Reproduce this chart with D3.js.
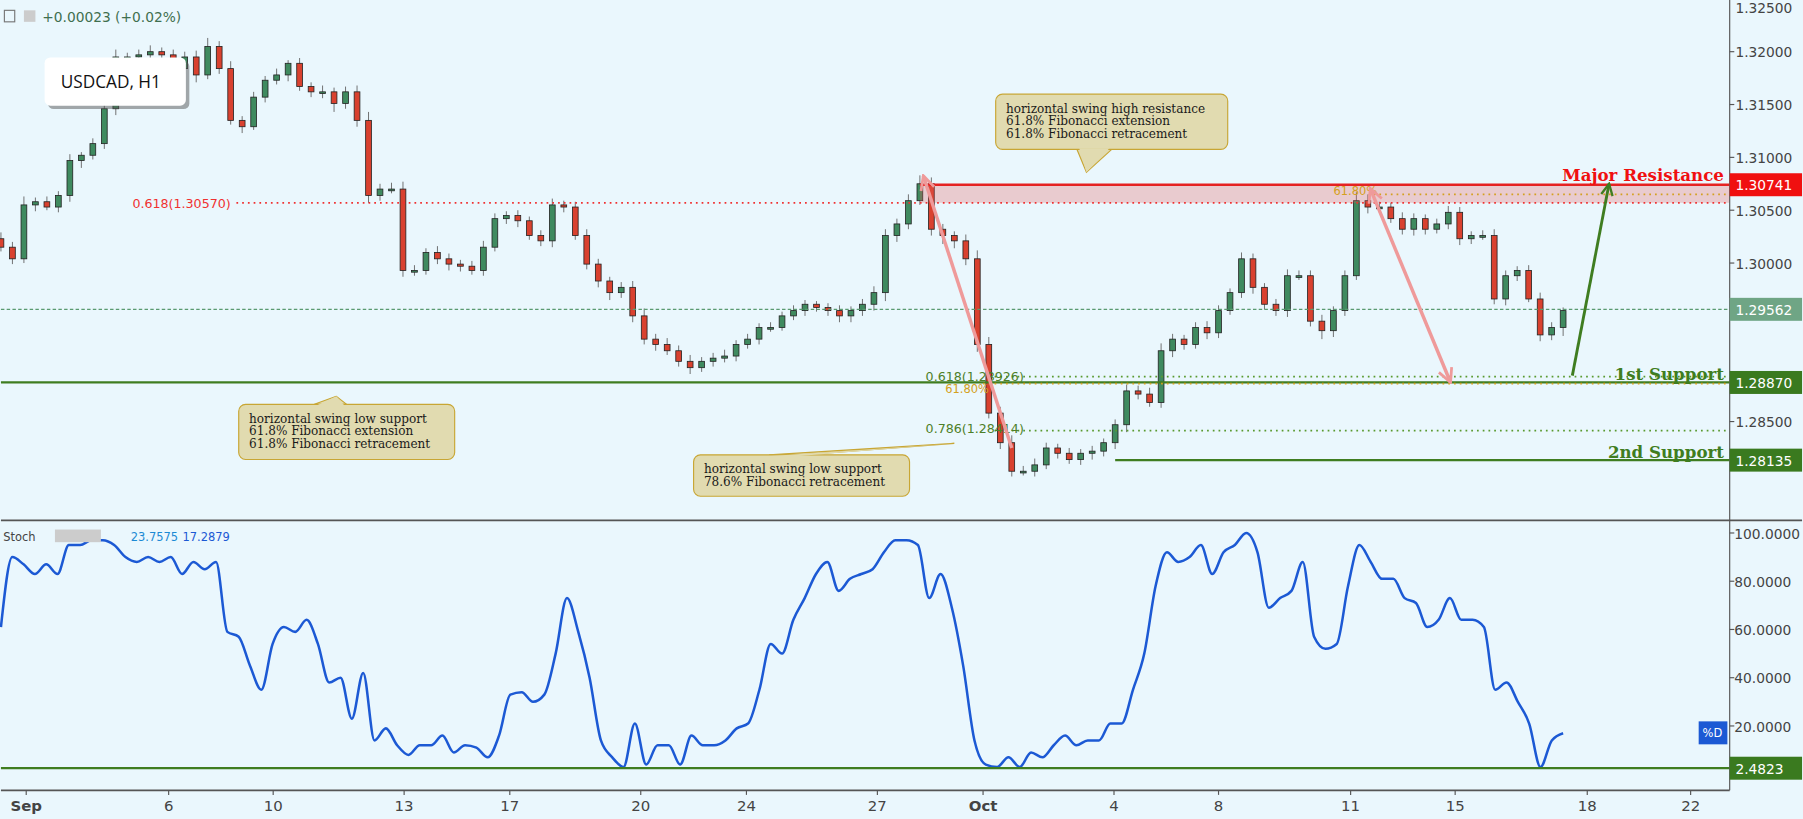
<!DOCTYPE html>
<html><head><meta charset="utf-8">
<script src="https://cdn.jsdelivr.net/npm/d3@7"></script>
<style>body{margin:0;background:#eaf7fd;}text{font-family:"DejaVu Sans",sans-serif;}</style>
</head><body>
<svg id="c" width="1803" height="819" viewBox="0 0 1568 713"></svg>
<script>
const closes=[1.3015,1.3004,1.3055,1.3058,1.3053,1.3064,1.3097,1.3102,1.3113,1.3146,1.3195,1.3195,1.3197,1.3200,1.3197,1.3184,1.3195,1.3178,1.3205,1.3184,
1.3135,1.3129,1.3157,1.3173,1.3178,1.3189,1.3167,1.3162,1.3162,1.3151,1.3162,1.3135,1.3064,1.3070,1.3070,1.2993,1.2993,1.3010,1.3004,1.2999,
1.2997,1.2993,1.3015,1.3042,1.3045,1.3040,1.3026,1.3021,1.3055,1.3053,1.3026,1.2999,1.2983,1.2972,1.2977,1.2950,1.2928,1.2923,1.2917,1.2907,
1.2901,1.2907,1.2910,1.2912,1.2923,1.2928,1.2939,1.2939,1.2950,1.2955,1.2961,1.2958,1.2955,1.2950,1.2955,1.2961,1.2972,1.3026,1.3037,1.3059,
1.3075,1.3032,1.3026,1.3021,1.3004,1.2923,1.2858,1.2830,1.2803,1.2803,1.2809,1.2825,1.2820,1.2814,1.2820,1.2822,1.2830,1.2847,1.2879,1.2876,
1.2868,1.2917,1.2928,1.2923,1.2939,1.2934,1.2955,1.2972,1.3004,1.2977,1.2961,1.2955,1.2988,1.2988,1.2945,1.2936,1.2955,1.2988,1.3059,1.3053,
1.3053,1.3042,1.3032,1.3042,1.3032,1.3037,1.3048,1.3023,1.3026,1.3026,1.2966,1.2988,1.2993,1.2966,1.2932,1.2939,1.2955];
const wicks=[6,5,8,4,5,4,6,3,5,6,7,4,5,6,4,5,5,6,8,5,7,4,5,4,6,3,5,4,6,4,5,6,8,5,6,7,5,4,6,5,4,5,6,5,4,5,4,5,6,4,5,6,5,4,5,6,7,5,6,5,
6,4,5,6,4,5,4,5,4,5,4,3,4,5,4,5,6,6,5,6,8,6,5,4,6,8,7,6,7,5,6,5,4,5,4,5,4,5,6,5,6,7,5,4,5,6,5,4,6,5,4,5,6,5,5,6,4,5,8,6,
5,4,6,5,4,5,6,5,4,5,6,5,4,5,6,5,3];
const stoch=[61,90,87,83,87,83,95,95,97,97,95,90,88,90,88,90,83,88,85,88,59,57,45,35,54,61,59,64,54,38,40,23,42,14,19,12,8,12,12,16,9,12,11,7,16,33,34,30,33,50,
73,59,40,14,7,3,21,4,12,12,4,16,12,12,14,19,21,35,54,50,64,73,83,88,76,81,83,85,92,97,97,95,73,83,69,45,14,4,3,7,3,9,7,12,16,12,14,14,21,21,
35,50,78,92,88,90,95,83,92,95,100,92,69,73,76,88,57,52,54,78,95,88,81,81,73,71,61,64,73,64,64,61,35,38,30,21,3,14,17];
const priceTicks=[1.325,1.32,1.315,1.31,1.305,1.30,1.285];
const stochTicks=[100,80,60,40,20];
const dayTicks=[["Sep",22],["6",146],["10",237],["13",351],["17",443],["20",557],["24",649],["27",763],["Oct",855],["4",969],["8",1060],["11",1175],["15",1266],["18",1381],["22",1471]];
const levels={res:1.30741,fib618:1.30570,ext618:1.30650,cur:1.29562,s1:1.28870,fibA:1.28926,fibB:1.28414,s2:1.28135,stochLvl:2.4823};

const svg=d3.select("#c");
const W=1505,H=713;
svg.append("rect").attr("width",1568).attr("height",713).attr("fill","#eaf7fd");
const y=d3.scaleLinear().domain([1.30,1.28]).range([229,413]);
const x=d3.scaleLinear().domain([0,1]).range([0,10]);
const ys=d3.scaleLinear().domain([0,100]).range([674,464]);
const g=svg.append("g");
closes.forEach((c,i)=>{
  const o=i?closes[i-1]:c+0.0008;
  const hi=Math.max(o,c)+wicks[i]*0.0001, lo=Math.min(o,c)-wicks[(i+3)%wicks.length]*0.0001;
  const cx=x(i);
  const up=c>=o;
  g.append("line").attr("x1",cx).attr("x2",cx).attr("y1",y(hi)).attr("y2",y(lo)).attr("stroke","#666").attr("stroke-width",0.8);
  g.append("rect").attr("x",cx-2.5).attr("width",5).attr("y",y(Math.max(o,c))).attr("height",Math.max(1.5,Math.abs(y(o)-y(c))))
   .attr("fill",up?"#3f8a5f":"#d9412f").attr("stroke","#222").attr("stroke-width",0.7);
});
const ln=(x1,x2,yy,col,w,dash)=>svg.append("line").attr("x1",x1).attr("x2",x2).attr("y1",yy).attr("y2",yy).attr("stroke",col).attr("stroke-width",w).attr("stroke-dasharray",dash||null);
svg.append("rect").attr("x",800).attr("width",W-800).attr("y",y(levels.res)).attr("height",y(levels.fib618)-y(levels.res)).attr("fill","rgba(230,90,90,0.28)");
ln(800,W,y(levels.res),"#e52222",2);
ln(205,W,y(levels.fib618),"#f03030",1.5,"1.5,3.5");
ln(1195,W,y(levels.ext618),"#d4a020",1.5,"1.5,3.5");
ln(0,W,y(levels.cur),"#5a9a70",1,"3,2");
ln(0,W,y(levels.s1),"#3f7d20",2);
ln(865,W,y(levels.fibA),"#5a9a30",1.5,"1.5,3.5");
ln(855,W,y(levels.s1)+1,"#d4a020",1.5,"1.5,3.5");
ln(865,W,y(levels.fibB),"#5a9a30",1.5,"1.5,3.5");
ln(970,W,y(levels.s2),"#3f7d20",2);
const t=(xx,yy,s,opt)=>{const e=svg.append("text").attr("x",xx).attr("y",yy).text(s).attr("font-size",opt.fs||11).attr("fill",opt.c||"#222").attr("text-anchor",opt.a||"start");if(opt.b)e.attr("font-weight","bold");if(opt.f)e.style("font-family",opt.f);return e;};
t(200,181,"0.618(1.30570)",{c:"#f03030",a:"end"});
t(1160,170,"61.80%",{c:"#d4a020",fs:10});
t(805,332,"0.618(1.28926)",{c:"#4d7f28"});
t(822,342,"61.80%",{c:"#d4a020",fs:10});
t(805,377,"0.786(1.28414)",{c:"#4d7f28"});
t(1500,158,"Major Resistance",{c:"#f01010",a:"end",b:1,fs:14.5,f:"DejaVu Serif"});
t(1500,331,"1st Support",{c:"#3f7d20",a:"end",b:1,fs:14.5,f:"DejaVu Serif"});
t(1500,399,"2nd Support",{c:"#3f7d20",a:"end",b:1,fs:14.5,f:"DejaVu Serif"});
const defs=svg.append("defs");
const mk=(id,col)=>defs.append("marker").attr("id",id).attr("viewBox","0 0 10 10").attr("refX",9).attr("refY",5).attr("markerWidth",5).attr("markerHeight",5).attr("orient","auto-start-reverse")
 .append("path").attr("d","M1,1 L9,5 L1,9").attr("fill","none").attr("stroke",col).attr("stroke-width",1.6);
mk("pk","#ef9a9a");mk("gr","#3f7d20");
svg.append("line").attr("x1",803).attr("y1",153).attr("x2",880).attr("y2",390).attr("stroke","#ef9a9a").attr("stroke-width",3).attr("marker-start","url(#pk)");
svg.append("line").attr("x1",1192).attr("y1",164).attr("x2",1262).attr("y2",333).attr("stroke","#ef9a9a").attr("stroke-width",3).attr("marker-start","url(#pk)").attr("marker-end","url(#pk)");
svg.append("line").attr("x1",1368).attr("y1",327).attr("x2",1400).attr("y2",160).attr("stroke","#3f7d20").attr("stroke-width",2.5).attr("marker-end","url(#gr)");
function callout(x0,y0,w,h,px,py,lines){
  svg.append("path").attr("d",`M${px},${py} L${x0+w*0.35},${y0+(py<y0?0:h)} L${x0+w*0.5},${y0+(py<y0?0:h)} Z`).attr("fill","#e1dbb0").attr("stroke","#c8a634");
  svg.append("rect").attr("x",x0).attr("y",y0).attr("width",w).attr("height",h).attr("rx",6).attr("fill","#e1dbb0").attr("stroke","#c8a634");
  svg.append("path").attr("d",`M${px},${py} L${x0+w*0.35+2},${y0+(py<y0?1:h-1)} L${x0+w*0.5-2},${y0+(py<y0?1:h-1)} Z`).attr("fill","#e1dbb0");
  lines.forEach((s,i)=>t(x0+9,y0+16+i*11,s,{fs:10.5,c:"#1a1a1a",f:"DejaVu Serif"}));
}
callout(866,82,202,48,945,150,["horizontal swing high resistance","61.8% Fibonacci extension","61.8% Fibonacci retracement"]);
callout(207,352,188,48,292,345,["horizontal swing low support","61.8% Fibonacci extension","61.8% Fibonacci retracement"]);
callout(603,396,188,36,830,386,["horizontal swing low support","78.6% Fibonacci retracement"]);
svg.append("rect").attr("x",41).attr("y",53).attr("width",123).attr("height",42).attr("rx",5).attr("fill","#555").attr("opacity",0.5);
svg.append("rect").attr("x",38).attr("y",50).attr("width",123).attr("height",42).attr("rx",5).attr("fill","#fff");
t(52,77,"USDCAD, H1",{fs:15,c:"#111",f:"Open Sans"});
svg.append("rect").attr("x",3).attr("y",9).attr("width",9).attr("height",10).attr("fill","none").attr("stroke","#777");
svg.append("rect").attr("x",20).attr("y",9).attr("width",10).attr("height",10).attr("fill","#ccc");
t(36,19,"+0.00023 (+0.02%)",{fs:12,c:"#3f6f4f"});
ln(0,1568,453,"#555",1.5);
const sx=d3.scaleLinear().domain([0,stoch.length-1]).range([0,1360]);
svg.append("path").datum(stoch).attr("d",d3.line().x((d,i)=>sx(i)).y(d=>ys(d)).curve(d3.curveMonotoneX)).attr("fill","none").attr("stroke","#1c59d4").attr("stroke-width",2.2);
ln(0,W,ys(levels.stochLvl),"#3f7d20",2);
t(2,471,"Stoch",{fs:10,c:"#444"});
svg.append("rect").attr("x",47).attr("y",461).attr("width",40).attr("height",11).attr("fill","#ccc");
t(113,471,"23.7575",{fs:10,c:"#1c8ad4"});t(158,471,"17.2879",{fs:10,c:"#1c59d4"});
svg.append("rect").attr("x",1478).attr("y",628).attr("width",25).attr("height",20).attr("fill","#1c59d4");
t(1490,642,"%D",{fs:10,c:"#fff",a:"middle"});
svg.append("line").attr("x1",W).attr("x2",W).attr("y1",0).attr("y2",688).attr("stroke","#555");
priceTicks.forEach(p=>{ln(W,W+4,y(p),"#555",1);t(1510,Math.max(y(p)+5,11),p.toFixed(5),{fs:12,c:"#444"});});
stochTicks.forEach(v=>{ln(W,W+4,ys(v),"#555",1);t(1509,ys(v)+5,v.toFixed(4),{fs:12,c:"#444"});});
const lab=(v,yy,bg)=>{svg.append("rect").attr("x",W).attr("y",yy-10).attr("width",63).attr("height",20).attr("fill",bg);t(1510,yy+5,v,{fs:12,c:"#fff"});};
lab("1.30741",y(levels.res),"#f01010");
lab("1.29562",y(levels.cur),"#6fa585");
lab("1.28870",y(levels.s1),"#3a7a1f");
lab("1.28135",y(levels.s2),"#3a7a1f");
lab("2.4823",ys(levels.stochLvl),"#3a7a1f");
ln(0,W,688,"#555",1.5);
dayTicks.forEach(([s,px])=>{svg.append("line").attr("x1",px).attr("x2",px).attr("y1",688).attr("y2",692).attr("stroke","#555");t(px,706,s,{fs:13,c:"#444",a:"middle",b:(s==="Sep"||s==="Oct")});});
</script></body></html>
